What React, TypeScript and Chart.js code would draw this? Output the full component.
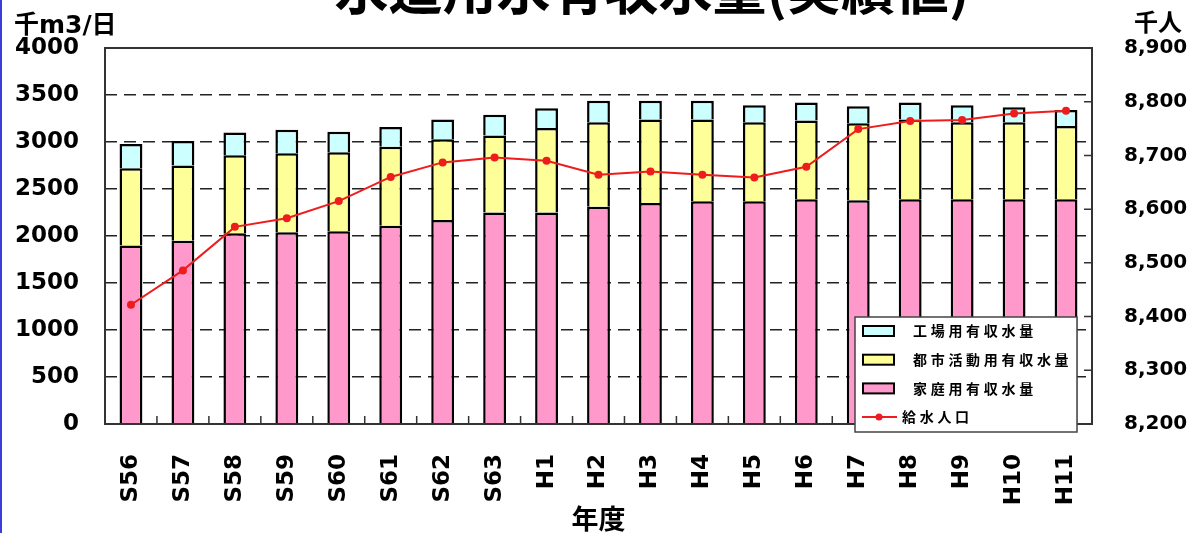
import React, { useEffect, useRef } from 'react';
import { Chart, registerables } from 'chart.js';

Chart.register(...registerables);

// 年度
const categories = [
  'S56', 'S57', 'S58', 'S59', 'S60', 'S61', 'S62', 'S63',
  'H1', 'H2', 'H3', 'H4', 'H5', 'H6', 'H7', 'H8', 'H9', 'H10', 'H11',
];

// 家庭用有収水量 (千m3/日)
const homeUse = [1900, 1950, 2030, 2040, 2050, 2110, 2170, 2250, 2250, 2310, 2350, 2370, 2370, 2390, 2380, 2390, 2390, 2390, 2390];
// 都市活動用有収水量 (千m3/日)
const urbanUse = [820, 800, 830, 840, 840, 840, 860, 820, 900, 900, 890, 870, 840, 840, 820, 850, 820, 820, 780];
// 工場用有収水量 (千m3/日)
const factoryUse = [260, 260, 240, 250, 220, 210, 210, 220, 210, 230, 200, 200, 180, 190, 180, 180, 180, 160, 170];
// 給水人口 (千人)
const population = [8422, 8486, 8567, 8583, 8615, 8660, 8687, 8696, 8690, 8664, 8670, 8664, 8659, 8679, 8749, 8764, 8766, 8778, 8783];

const leftTicks = { min: 0, max: 4000, step: 500 };
const rightTicks = { min: 8200, max: 8900, step: 100 };

const TITLE = '水道用水有収水量(実績値)';
const LEFT_UNIT = '千m3/日';
const RIGHT_UNIT = '千人';
const X_TITLE = '年度';

const PINK = '#FF99CC';
const YELLOW = '#FFFF99';
const CYAN = '#CCFFFF';
const RED = '#EE1C1C';

const NUM_FONT = '"DejaVu Sans", "Liberation Sans", sans-serif';
const CJK_FONT = '"Noto Sans CJK JP", "Noto Sans", sans-serif';

const decorations = {
  id: 'decorations',
  afterDraw(chart: any) {
    const { ctx, chartArea: a, scales } = chart;
    ctx.save();

    // plot frame
    ctx.strokeStyle = '#333';
    ctx.lineWidth = 2;
    ctx.strokeRect(a.left, a.top, a.right - a.left, a.bottom - a.top);

    // inward ticks between categories
    const xs = scales.x;
    const step = xs.getPixelForValue(1) - xs.getPixelForValue(0);
    ctx.lineWidth = 1.5;
    ctx.beginPath();
    for (let i = 1; i < categories.length; i++) {
      const x = xs.getPixelForValue(i) - step / 2;
      ctx.moveTo(x, a.bottom);
      ctx.lineTo(x, a.bottom - 8);
    }
    // inward ticks on the right axis
    const yr = scales.y1;
    yr.ticks.forEach((t: any) => {
      const y = yr.getPixelForValue(t.value);
      ctx.moveTo(a.right, y);
      ctx.lineTo(a.right - 8, y);
    });
    ctx.stroke();

    // texts
    ctx.fillStyle = '#000';
    ctx.textAlign = 'center';
    ctx.textBaseline = 'ideographic';
    ctx.font = `bold 54px ${CJK_FONT}`;
    ctx.fillText(TITLE, 652, 16);

    ctx.textBaseline = 'alphabetic';
    ctx.textAlign = 'left';
    ctx.font = `bold 25px ${NUM_FONT}, ${CJK_FONT}`;
    ctx.fillText(LEFT_UNIT, 14, 33);

    ctx.textAlign = 'right';
    ctx.font = `bold 24px ${CJK_FONT}`;
    ctx.fillText(RIGHT_UNIT, 1182, 31);

    ctx.textAlign = 'center';
    ctx.font = `bold 27px ${CJK_FONT}`;
    ctx.fillText(X_TITLE, (a.left + a.right) / 2, 529);

    // legend
    const bx = a.right - 237;
    const by = a.top + 269;
    const bw = 222;
    const bh = 115;
    ctx.fillStyle = '#fff';
    ctx.fillRect(bx, by, bw, bh);
    ctx.strokeStyle = '#444';
    ctx.lineWidth = 1.5;
    ctx.strokeRect(bx, by, bw, bh);

    const ds = chart.data.datasets;
    const items = [ds[2], ds[1], ds[0], ds[3]];
    ctx.font = `bold 14px ${CJK_FONT}`;
    (ctx as any).letterSpacing = '3.7px';
    ctx.textAlign = 'left';
    ctx.textBaseline = 'middle';
    items.forEach((d: any, i: number) => {
      const cy = by + 14 + i * 28.7;
      if (d.type === 'line') {
        ctx.strokeStyle = d.borderColor;
        ctx.lineWidth = 2;
        ctx.beginPath();
        ctx.moveTo(bx + 7, cy);
        ctx.lineTo(bx + 42, cy);
        ctx.stroke();
        ctx.fillStyle = d.borderColor;
        ctx.beginPath();
        ctx.arc(bx + 24, cy, 3.5, 0, Math.PI * 2);
        ctx.fill();
        ctx.fillStyle = '#000';
        ctx.fillText(d.label, bx + 47, cy);
      } else {
        ctx.fillStyle = d.backgroundColor;
        ctx.fillRect(bx + 8, cy - 5, 31, 10);
        ctx.strokeStyle = '#000';
        ctx.lineWidth = 2;
        ctx.strokeRect(bx + 8, cy - 5, 31, 10);
        ctx.fillStyle = '#000';
        ctx.fillText(d.label, bx + 58, cy);
      }
    });
    ctx.restore();
  },
};

export default function App() {
  const canvasRef = useRef<HTMLCanvasElement | null>(null);

  useEffect(() => {
    if (!canvasRef.current) return;
    const sideBorder = { top: 2.5, left: 2.5, right: 2.5, bottom: 0 };
    const chart = new Chart(canvasRef.current, {
      type: 'bar',
      data: {
        labels: categories,
        datasets: [
          {
            type: 'bar',
            label: '家庭用有収水量',
            data: homeUse,
            backgroundColor: PINK,
            borderColor: '#000',
            borderWidth: sideBorder,
            borderSkipped: false,
            order: 1,
          },
          {
            type: 'bar',
            label: '都市活動用有収水量',
            data: urbanUse,
            backgroundColor: YELLOW,
            borderColor: '#000',
            borderWidth: sideBorder,
            borderSkipped: false,
            order: 1,
          },
          {
            type: 'bar',
            label: '工場用有収水量',
            data: factoryUse,
            backgroundColor: CYAN,
            borderColor: '#000',
            borderWidth: sideBorder,
            borderSkipped: false,
            order: 1,
          },
          {
            type: 'line',
            label: '給水人口',
            data: population,
            yAxisID: 'y1',
            borderColor: RED,
            backgroundColor: RED,
            borderWidth: 2,
            pointRadius: 4,
            pointBorderWidth: 0,
            pointBackgroundColor: RED,
            tension: 0,
            order: 0,
          },
        ] as any,
      },
      options: {
        responsive: false,
        animation: false,
        devicePixelRatio: 1,
        layout: { padding: { top: 48, left: 0, right: 0, bottom: 0 } },
        datasets: { bar: { categoryPercentage: 1, barPercentage: 0.44 } } as any,
        plugins: {
          legend: { display: false },
          tooltip: { enabled: false },
          title: { display: false },
        },
        scales: {
          x: {
            stacked: true,
            offset: true,
            grid: { display: false },
            border: { display: false },
            ticks: {
              color: '#000',
              font: { family: NUM_FONT, weight: 'bold', size: 23 },
              minRotation: 90,
              maxRotation: 90,
              padding: 22,
              autoSkip: false,
            },
            afterFit: (s: any) => { s.height = 109; },
          },
          y: {
            stacked: true,
            min: leftTicks.min,
            max: leftTicks.max,
            ticks: {
              stepSize: leftTicks.step,
              padding: 26,
              color: '#000',
              font: { family: NUM_FONT, weight: 'bold', size: 23 },
              callback: (v: any) => String(v),
            },
            grid: {
              drawTicks: false,
              lineWidth: 1.5,
              color: (c: any) =>
                c.tick && (c.tick.value === leftTicks.min || c.tick.value === leftTicks.max)
                  ? 'rgba(0,0,0,0)'
                  : '#222',
            },
            border: { display: false, dash: [12, 7] },
            afterFit: (s: any) => { s.width = 105; },
          },
          y1: {
            position: 'right',
            min: rightTicks.min,
            max: rightTicks.max,
            ticks: {
              stepSize: rightTicks.step,
              padding: 24,
              color: '#000',
              font: { family: NUM_FONT, weight: 'bold', size: 20 },
              callback: (v: any) => Number(v).toLocaleString('en-US'),
            },
            grid: { display: false },
            border: { display: false },
            afterFit: (s: any) => { s.width = 102; },
          },
        },
      } as any,
      plugins: [decorations],
    });
    return () => chart.destroy();
  }, []);

  return (
    <div
      style={{
        position: 'fixed',
        left: 0,
        top: 0,
        width: 1194,
        height: 533,
        background: '#fff',
        overflow: 'hidden',
      }}
    >
      <canvas ref={canvasRef} width={1194} height={533} style={{ display: 'block' }} />
      <div
        style={{
          position: 'absolute',
          left: 0,
          top: 0,
          width: 2,
          height: 533,
          background: '#3c3cd8',
        }}
      />
    </div>
  );
}
